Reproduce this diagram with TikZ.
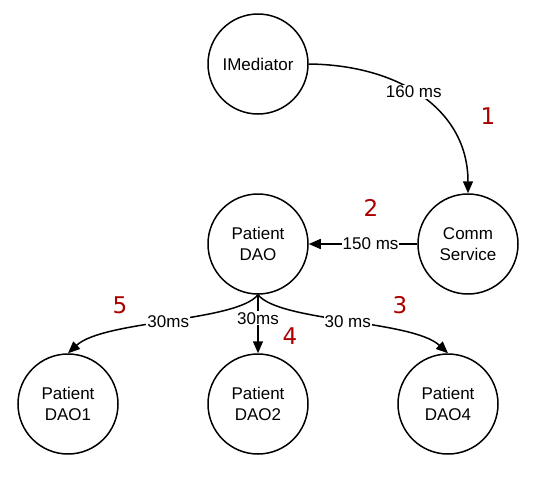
\documentclass[tikz,border=0pt]{standalone}
\usepackage{fontspec}
\setmainfont{Liberation Sans}
\newfontfamily\numfont{DejaVu Sans}
\usetikzlibrary{arrows.meta}
\definecolor{numred}{RGB}{170,0,0}
\begin{document}
\begin{tikzpicture}[x=1pt,y=-1pt,
  circ/.style={circle,draw,line width=1.5pt,minimum size=100pt,inner sep=0pt,align=center,font=\fontsize{17}{21}\selectfont},
  conn/.style={line width=1.5pt,-{Triangle[length=12pt,width=10pt]}},
  lab/.style={fill=white,inner sep=1pt,font=\fontsize{17}{19}\selectfont},
  num/.style={text=numred,font=\numfont\fontsize{23}{25}\selectfont}]
\useasboundingbox (0,0) rectangle (552,491);
\node[circ] (med) at (258,64) {IMediator};
\node[circ] (comm) at (468,244) {Comm\\Service};
\node[circ] (pdao) at (258,244) {Patient\\DAO};
\node[circ] (d1) at (68,404) {Patient\\DAO1};
\node[circ] (d2) at (258,404) {Patient\\DAO2};
\node[circ] (d4) at (448,404) {Patient\\DAO4};
\draw[conn] (med.east) .. controls (400,65) and (468,110) .. node[lab,pos=0.45] {160 ms} (comm.north);
\draw[conn] (comm.west) -- node[lab,pos=0.43] {150 ms} (pdao.east);
\draw[conn] (pdao.south) .. controls (236,322) and (104,320) .. node[lab,pos=0.5] {30ms} (d1.north);
\draw[conn] (pdao.south) -- node[lab,pos=0.4] {30ms} (d2.north);
\draw[conn] (pdao.south) .. controls (280,322) and (412,320) .. node[lab,pos=0.5] {30 ms} (d4.north);
\node[num] (n1) at (488,116) {1};
\node[num] (n2) at (371,208) {2};
\node[num] (n3) at (400,305) {3};
\node[num] (n4) at (290,336) {4};
\node[num] (n5) at (120,305) {5};
\end{tikzpicture}
\end{document}
